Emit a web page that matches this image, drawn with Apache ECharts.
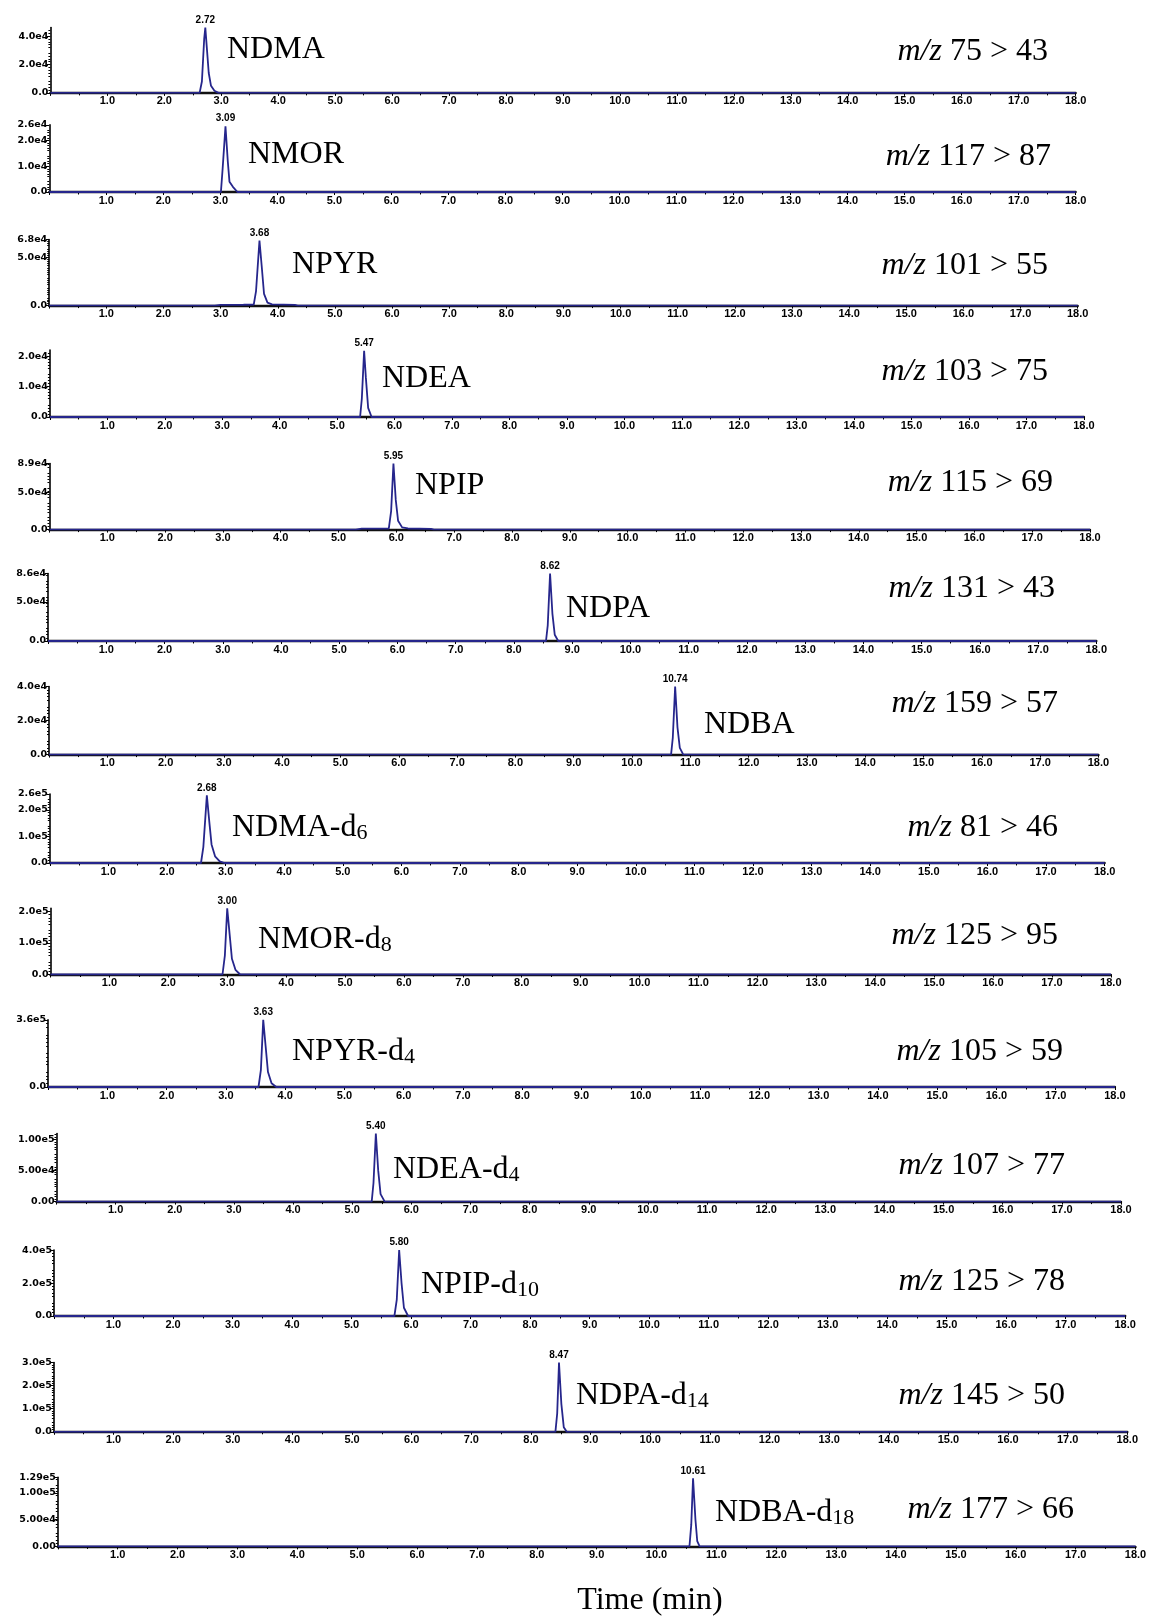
<!DOCTYPE html>
<html>
<head>
<meta charset="utf-8">
<title>MRM chromatograms of nitrosamines</title>
<script src="https://cdn.jsdelivr.net/npm/echarts@6/dist/echarts.min.js"></script>
<style>
  html, body { margin: 0; padding: 0; background: #fff; }
  #chart { width: 1150px; height: 1619px; }
</style>
</head>
<body>
<div id="chart"></div>
<script>
// 化合物名称、同位素下标、离子对
const compounds = ['NDMA', 'NMOR', 'NPYR', 'NDEA', 'NPIP', 'NDPA', 'NDBA',
    'NDMA-d', 'NMOR-d', 'NPYR-d', 'NDEA-d', 'NPIP-d', 'NDPA-d', 'NDBA-d'];
const nameSub = ['', '', '', '', '', '', '', '6', '8', '4', '4', '10', '14', '18'];
const transitions = ['75 > 43', '117 > 87', '101 > 55', '103 > 75', '115 > 69', '131 > 43', '159 > 57',
    '81 > 46', '125 > 95', '105 > 59', '107 > 77', '125 > 78', '145 > 50', '177 > 66'];
const peakRT = [2.72, 3.09, 3.68, 5.47, 5.95, 8.62, 10.74, 2.68, 3.00, 3.63, 5.40, 5.80, 8.47, 10.61];

// 纵轴范围与刻度
const yMax = [4.6e4, 2.6e4, 6.8e4, 2.2e4, 8.9e4, 8.6e4, 4.0e4, 2.6e5, 2.1e5, 3.6e5, 1.1e5, 4.0e5, 3.0e5, 1.29e5];
const yTicks = [
    [0, 2e4, 4e4],
    [0, 1e4, 2e4, 2.6e4],
    [0, 5e4, 6.8e4],
    [0, 1e4, 2e4],
    [0, 5e4, 8.9e4],
    [0, 5e4, 8.6e4],
    [0, 2e4, 4e4],
    [0, 1e5, 2e5, 2.6e5],
    [0, 1e5, 2e5],
    [0, 3.6e5],
    [0, 5e4, 1e5],
    [0, 2e5, 4e5],
    [0, 1e5, 2e5, 3e5],
    [0, 5e4, 1e5, 1.29e5]
];
const yTickLabels = [
    ['0.0', '2.0e4', '4.0e4'],
    ['0.0', '1.0e4', '2.0e4', '2.6e4'],
    ['0.0', '5.0e4', '6.8e4'],
    ['0.0', '1.0e4', '2.0e4'],
    ['0.0', '5.0e4', '8.9e4'],
    ['0.0', '5.0e4', '8.6e4'],
    ['0.0', '2.0e4', '4.0e4'],
    ['0.0', '1.0e5', '2.0e5', '2.6e5'],
    ['0.0', '1.0e5', '2.0e5'],
    ['0.0', '3.6e5'],
    ['0.00', '5.00e4', '1.00e5'],
    ['0.0', '2.0e5', '4.0e5'],
    ['0.0', '1.0e5', '2.0e5', '3.0e5'],
    ['0.00', '5.00e4', '1.00e5', '1.29e5']
];
const timeMin = 0;
const timeMax = 18;

// 色谱图数据 [时间(min), 响应]
const traces = [
    [[0, 0], [2.62, 0], [2.66, 8e3], [2.70, 3.8e4], [2.72, 4.6e4], [2.75, 3.0e4], [2.78, 1.4e4], [2.82, 5e3], [2.88, 1.5e3], [2.95, 0], [18, 0]],
    [[0, 0], [3.01, 0], [3.04, 9e3], [3.09, 2.55e4], [3.13, 1.2e4], [3.16, 4e3], [3.22, 2e3], [3.30, 0], [18, 0]],
    [[0, 0], [2.90, 0], [3.00, 800], [3.40, 900], [3.58, 1000], [3.62, 1.5e4], [3.68, 6.7e4], [3.72, 4.0e4], [3.76, 1.2e4], [3.82, 3e3], [3.90, 1200], [4.30, 700], [4.35, 0], [18, 0]],
    [[0, 0], [5.40, 0], [5.43, 6e3], [5.47, 2.17e4], [5.50, 1.3e4], [5.54, 3e3], [5.60, 0], [18, 0]],
    [[0, 0], [5.30, 0], [5.40, 1200], [5.87, 1500], [5.91, 2.5e4], [5.95, 8.9e4], [5.99, 4.0e4], [6.03, 1.2e4], [6.10, 3e3], [6.20, 1500], [6.60, 1000], [6.65, 0], [18, 0]],
    [[0, 0], [8.55, 0], [8.58, 2.0e4], [8.62, 8.6e4], [8.66, 3.5e4], [8.70, 8e3], [8.76, 0], [18, 0]],
    [[0, 0], [10.67, 0], [10.70, 1.0e4], [10.74, 4.0e4], [10.78, 1.6e4], [10.82, 4e3], [10.88, 0], [18, 0]],
    [[0, 0], [2.58, 0], [2.62, 6e4], [2.68, 2.55e5], [2.72, 1.6e5], [2.76, 7e4], [2.82, 2.5e4], [2.90, 6e3], [2.98, 0], [18, 0]],
    [[0, 0], [2.92, 0], [2.96, 6e4], [3.00, 2.1e5], [3.04, 1.3e5], [3.08, 5e4], [3.14, 1.5e4], [3.22, 0], [18, 0]],
    [[0, 0], [3.55, 0], [3.59, 9e4], [3.63, 3.6e5], [3.67, 2.2e5], [3.71, 8e4], [3.77, 2e4], [3.85, 0], [18, 0]],
    [[0, 0], [5.33, 0], [5.36, 3e4], [5.40, 1.1e5], [5.44, 5e4], [5.48, 1.2e4], [5.55, 0], [18, 0]],
    [[0, 0], [5.72, 0], [5.76, 1e5], [5.80, 4.0e5], [5.84, 2e5], [5.88, 5e4], [5.95, 0], [18, 0]],
    [[0, 0], [8.41, 0], [8.44, 8e4], [8.47, 3.0e5], [8.51, 1.2e5], [8.55, 2e4], [8.60, 0], [18, 0]],
    [[0, 0], [10.55, 0], [10.58, 4e4], [10.61, 1.27e5], [10.65, 5e4], [10.68, 1e4], [10.72, 0], [18, 0]]
];

// 各面板位置（像素）
const panelLeft = [50.4, 49.3, 49.2, 49.9, 49.5, 48.1, 49, 49.8, 50.5, 48.1, 56.5, 54, 53.9, 57.8];
const panelRight = [1075.6, 1075.6, 1077.7, 1083.9, 1090, 1096.3, 1098.4, 1104.6, 1110.8, 1114.9, 1121, 1125.2, 1127.3, 1135.5];
const panelTop = [27.6, 124.9, 239.6, 350, 463.5, 573.5, 686.5, 794, 908.4, 1019.9, 1133.5, 1250.1, 1362.6, 1477.2];
const panelBottom = [92.9, 192, 305.6, 417, 529.6, 641, 754.6, 863, 974.5, 1087, 1201.6, 1316, 1431.8, 1546.4];
const namePos = [[227, 49.5], [248, 155], [292, 265], [382, 379], [415, 486], [566, 609], [704, 725],
    [232, 828], [258, 940], [292, 1052], [393, 1170], [421, 1285], [576, 1396], [715, 1513]];
const mzPos = [[1048, 52], [1051, 157], [1048, 266], [1048, 372], [1053, 483], [1055, 589], [1058, 704],
    [1058, 828], [1058, 936], [1063, 1052], [1065, 1166], [1065, 1282], [1065, 1396], [1074, 1510]];

const W = 1150, H = 1619;
const LINE_COLOR = '#26268c';
const SERIF = '"Liberation Serif", "Times New Roman", serif';
const SANS = '"Liberation Sans", Arial, sans-serif';
const WIDE = '"DejaVu Sans", Verdana, sans-serif';

const grids = [], xAxes = [], yAxes = [], series = [], graphics = [];

compounds.forEach((name, i) => {
    grids.push({
        left: panelLeft[i],
        right: W - panelRight[i],
        top: panelTop[i],
        height: panelBottom[i] - panelTop[i]
    });

    xAxes.push({
        gridIndex: i,
        type: 'value',
        min: timeMin,
        max: timeMax,
        interval: 1,
        z: 3,
        axisLine: { lineStyle: { color: '#111', width: 2.4 } },
        axisTick: { length: 3, lineStyle: { color: '#000', width: 1 } },
        minorTick: { show: true, splitNumber: 2, length: 2.5, lineStyle: { color: '#000' } },
        splitLine: { show: false },
        axisLabel: {
            margin: 3,
            fontFamily: SANS,
            fontWeight: 'bold',
            fontSize: 11,
            color: '#000',
            formatter: v => (v === 0 ? '' : v.toFixed(1))
        }
    });

    const ticks = yTicks[i];
    const labels = yTickLabels[i];
    yAxes.push({
        gridIndex: i,
        type: 'value',
        min: 0,
        max: yMax[i],
        z: 3,
        axisLine: { show: true, lineStyle: { color: '#000', width: 1.6 } },
        axisTick: { show: true, length: 3.5, customValues: ticks, lineStyle: { color: '#000' } },
        minorTick: { show: true, splitNumber: 5, length: 2, lineStyle: { color: '#000' } },
        splitLine: { show: false },
        axisLabel: {
            margin: 2,
            fontFamily: WIDE,
            fontWeight: 'bold',
            fontSize: 9.5,
            color: '#000',
            customValues: ticks,
            formatter: v => {
                const k = ticks.findIndex(t => Math.abs(t - v) < 1);
                return k >= 0 ? labels[k] : '';
            }
        }
    });

    const data = traces[i];
    const apex = data.reduce((a, b) => (b[1] > a[1] ? b : a));
    series.push({
        type: 'line',
        xAxisIndex: i,
        yAxisIndex: i,
        data: data,
        showSymbol: false,
        symbol: 'none',
        lineStyle: { color: LINE_COLOR, width: 1.8 },
        silent: true,
        markPoint: {
            symbol: 'circle',
            symbolSize: 1,
            itemStyle: { color: 'rgba(0,0,0,0)' },
            label: {
                show: true,
                position: 'top',
                distance: 2,
                fontFamily: SANS,
                fontWeight: 'bold',
                fontSize: 10,
                color: '#000',
                formatter: peakRT[i].toFixed(2)
            },
            data: [{ coord: [peakRT[i], apex[1]] }]
        }
    });

    // 化合物名称（带下标）
    graphics.push({
        type: 'text',
        x: namePos[i][0],
        y: namePos[i][1],
        style: {
            text: nameSub[i] ? name + '{s|' + nameSub[i] + '}' : name,
            font: '32px ' + SERIF,
            fill: '#000',
            align: 'left',
            verticalAlign: 'middle',
            rich: {
                s: {
                    fontFamily: SERIF,
                    fontSize: 22,
                    lineHeight: 22,
                    verticalAlign: 'bottom',
                    padding: [10, 0, 0, 0],
                    fill: '#000'
                }
            }
        }
    });

    // 离子对
    graphics.push({
        type: 'text',
        x: mzPos[i][0],
        y: mzPos[i][1],
        style: {
            text: '{i|m/z} ' + transitions[i],
            font: '32px ' + SERIF,
            fill: '#000',
            align: 'right',
            verticalAlign: 'middle',
            rich: {
                i: { fontFamily: SERIF, fontSize: 32, fontStyle: 'italic', fill: '#000' }
            }
        }
    });
});

graphics.push({
    type: 'text',
    x: 650,
    y: 1601,
    style: {
        text: 'Time (min)',
        font: '32px ' + SERIF,
        fill: '#000',
        align: 'center',
        verticalAlign: 'middle'
    }
});

const chart = echarts.init(document.getElementById('chart'), null, { renderer: 'canvas' });
chart.setOption({
    backgroundColor: '#fff',
    animation: false,
    grid: grids,
    xAxis: xAxes,
    yAxis: yAxes,
    series: series,
    graphic: graphics
});
</script>
</body>
</html>
